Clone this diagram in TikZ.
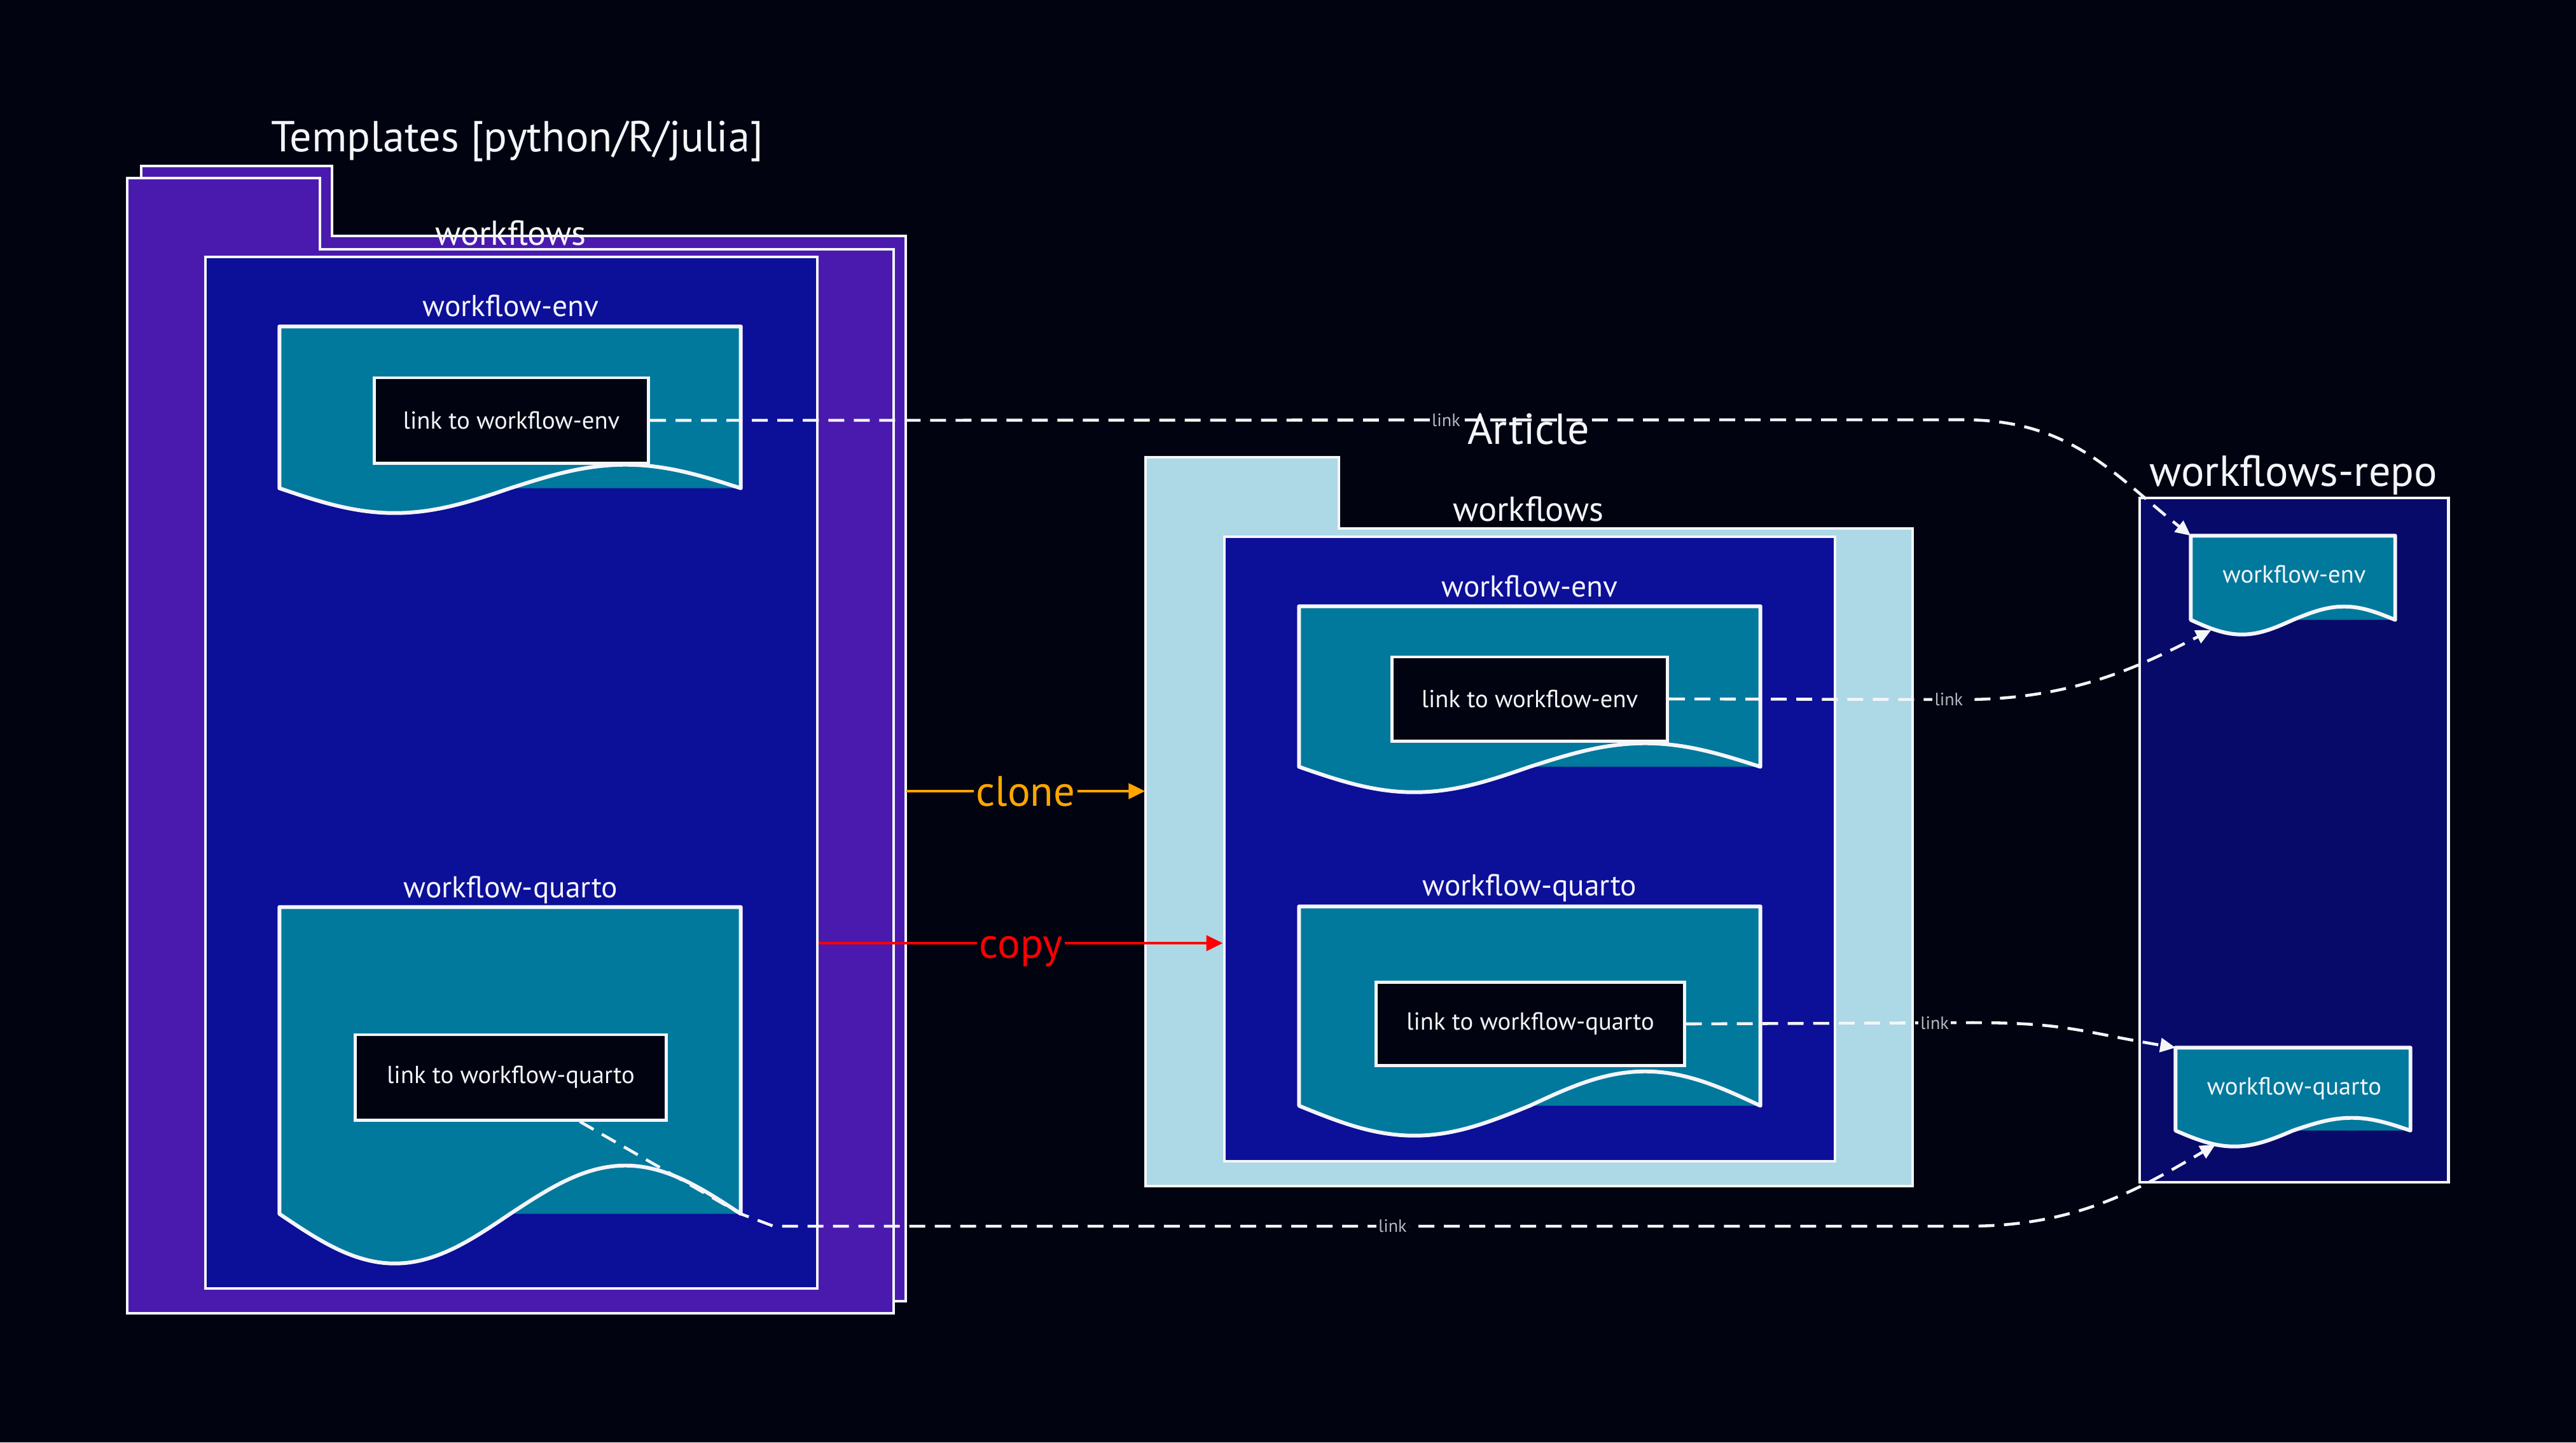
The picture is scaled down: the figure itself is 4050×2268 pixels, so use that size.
\documentclass[tikz,border=0pt]{standalone}
\usepackage{fontspec}
\setmainfont{PT Sans}
\usepackage{tikz}
\usetikzlibrary{fit}
\usetikzlibrary{calc}
\usetikzlibrary{arrows.meta}
\usepackage{color}
\definecolor{night}{RGB}{1, 4, 16}
\definecolor{ink}{RGB}{244, 245, 250}
\definecolor{ash}{RGB}{182, 184, 196}
\definecolor{grape}{RGB}{74, 26, 174}
\definecolor{cobalt}{RGB}{12, 15, 152}
\definecolor{petrol}{RGB}{1, 121, 156}
\definecolor{sky}{RGB}{173, 216, 230}
\definecolor{repoblue}{RGB}{8, 10, 105}
\definecolor{amber}{RGB}{255, 165, 0}
\definecolor{signal}{RGB}{255, 0, 0}

\tikzset{
    frame/.style      = {draw=ink, line width=1.4pt, inner sep=0pt},
    fitbox/.style     = {inner sep=0pt},
    folderline/.style = {draw=ink, line width=1.3pt},
    linkbox/.style    = {frame, fill=night, text=ink, font=\fontsize{11}{13}\selectfont},
    docfill/.style    = {fill=petrol},
    docline/.style    = {draw=ink, line width=1.7pt, line join=round},
    heading/.style    = {text=ink, inner sep=0pt, font=\fontsize{19.4}{23}\selectfont},
    subheading/.style = {text=ink, inner sep=0pt, font=\fontsize{15.5}{18}\selectfont},
    grouphead/.style  = {text=ink, inner sep=0pt, font=\fontsize{13.5}{16}\selectfont},
    docword/.style    = {text=ink, inner sep=0pt, font=\fontsize{11}{13}\selectfont},
    linkword/.style   = {text=ash, fill=night, inner sep=1pt, font=\fontsize{8}{9}\selectfont},
    flowword/.style   = {fill=night, inner sep=1pt, font=\fontsize{19}{23}\selectfont},
    linkline/.style   = {draw=ink, line width=1.3pt, dash pattern=on 2.5mm off 1.5mm,
                         -{Triangle[length=2.4mm, width=2.2mm]}},
    clonearrow/.style = {draw=amber, line width=1.4pt, -{Triangle[length=2.6mm, width=2.4mm]}},
    copyarrow/.style  = {draw=signal, line width=1.4pt, -{Triangle[length=2.6mm, width=2.4mm]}},
}

% wavy document: node, dip below base, hump above base
\newcommand{\wavedoc}[3]{%
    \fill[docfill] (#1.north west) -- (#1.north east) -- (#1.south east) -- (#1.south)
        sin ($(#1.south west)!0.25!(#1.south east)+(0,#2)$) cos (#1.south west) -- cycle;
    \draw[docline] (#1.south west)
        sin ($(#1.south west)!0.25!(#1.south east)+(0,#2)$)  cos (#1.south)
        sin ($(#1.south west)!0.75!(#1.south east)+(0,-#3)$) cos (#1.south east)
        -- (#1.north east) -- (#1.north west) -- cycle;
}

\begin{document}
\begin{tikzpicture}[x=0.01cm, y=-0.01cm]
            % Frame to ensure alignment:
            \useasboundingbox                                  (0, 0) rectangle (4050, 2268);
            \fill[night]                                       (0, 0) rectangle (4050, 2268);

            % Templates folder
            \node[heading]    (tTpl)    at ( 813,  222) {Templates [python/R/julia]};
            \filldraw[folderline, fill=grape] ( 222, 261) -- ( 522, 261) -- ( 522, 371) -- (1424, 371) -- (1424, 2046) -- ( 222, 2046) -- cycle;
            \filldraw[folderline, fill=grape] ( 200, 280) -- ( 503, 280) -- ( 503, 392) -- (1405, 392) -- (1405, 2065) -- ( 200, 2065) -- cycle;
            \node[fitbox, fit={( 522,  371) (1424, 2046)}] (tplBack)  {};
            \node[subheading] (tTplWf)  at ( 803,  366) {workflows};
            \node[frame, fill=cobalt, fit={( 323,  404) (1285, 2026)}] (tplInner) {};

            \node[grouphead]  (tTplEnv) at ( 803,  481) {workflow-env};
            \node[fitbox,  fit={( 440,  514) (1164,  767)}] (docLE) {};
            \wavedoc{docLE}{39}{37}
            \node[linkbox, minimum width=43.1mm, minimum height=13.4mm] (lnkLE) at ( 804,  661) {link to workflow-env};

            \node[grouphead]  (tTplQrt) at ( 803, 1399) {workflow-quarto};
            \node[fitbox,  fit={( 440, 1427) (1164, 1908)}] (docLQ) {};
            \wavedoc{docLQ}{78}{76}
            \node[linkbox, minimum width=48.8mm, minimum height=13.4mm] (lnkLQ) at ( 803, 1694) {link to workflow-quarto};

            % Article folder
            \filldraw[folderline, fill=sky] (1801, 719) -- (2105, 719) -- (2105, 831) -- (3007, 831) -- (3007, 1865) -- (1801, 1865) -- cycle;
            \node[fitbox, fit={(1801,  831) (3007, 1865)}] (artFolder) {};
            \node[heading]    (tArt)    at (2403,  675) {Article};
            \node[subheading] (tArtWf)  at (2403,  800) {workflows};
            \node[frame, fill=cobalt, fit={(1925,  844) (2885, 1826)}] (artInner) {};

            \node[grouphead]  (tArtEnv) at (2405,  922) {workflow-env};
            \node[fitbox,  fit={(2043,  954) (2767, 1205)}] (docAE) {};
            \wavedoc{docAE}{40}{37}
            \node[linkbox, minimum width=43.3mm, minimum height=13.2mm] (lnkAE) at (2405, 1099) {link to workflow-env};

            \node[grouphead]  (tArtQrt) at (2405, 1396) {workflow-quarto};
            \node[fitbox,  fit={(2043, 1426) (2767, 1738)}] (docAQ) {};
            \wavedoc{docAQ}{47}{54}
            \node[linkbox, minimum width=48.4mm, minimum height=13.1mm] (lnkAQ) at (2406, 1610) {link to workflow-quarto};

            % workflows-repo
            \node[heading]    (tRepo)   at (3606,  747) {workflows-repo};
            \node[frame, fill=repoblue, fit={(3364,  783) (3849, 1859)}] (repo) {};
            \node[fitbox,  fit={(3445,  843) (3765,  974)}] (docRE) {};
            \wavedoc{docRE}{23}{21}
            \node[docword]    (tRE)     at (3607,  903) {workflow-env};
            \node[fitbox,  fit={(3421, 1648) (3789, 1777)}] (docRQ) {};
            \wavedoc{docRQ}{25}{20}
            \node[docword]    (tRQ)     at (3607, 1712) {workflow-quarto};

            % clone / copy
            \coordinate (cloneY) at (0, 1244);
            \coordinate (copyY)  at (0, 1483);
            \draw[clonearrow] (tplBack.east  |- cloneY) -- node[flowword, text=amber,  pos=0.50] (tClone) {clone} (artFolder.west |- cloneY);
            \draw[copyarrow]  (tplInner.east |- copyY)  -- node[flowword, text=signal, pos=0.50, yshift=-1.3mm] (tCopy) {copy} (artInner.west |- copyY);

            % links
            \coordinate (bendA)  at (3087,  660);
            \coordinate (bendB)  at (3087, 1100);
            \coordinate (bendC)  at (3100, 1608);
            \coordinate (bendD0) at (1216, 1928);
            \coordinate (bendD)  at (3095, 1928);
            \draw[linkline] (lnkLE.east) -- node[linkword, pos=0.606] (lblA) {link} (bendA)
                 .. controls +(170, 0) and +(-120, -95) .. (docRE.north west);
            \draw[linkline] (lnkAE.east) -- node[linkword, pos=0.95]  (lblB) {link} (bendB)
                 .. controls +(180, 0) and +(-100, 50) .. ($(docRE.south west)!0.1!(docRE.south east)+(0, 16)$);
            \draw[linkline] (lnkAQ.east) -- node[linkword, pos=0.87]  (lblC) {link} (bendC)
                 .. controls +(150, 0) and +(-150, -25) .. (docRQ.north west);
            \draw[linkline] ($(lnkLQ.south west)!0.72!(lnkLQ.south east)$) -- (docLQ.south east) -- (bendD0)
                 -- node[linkword, pos=0.518] (lblD) {link} (bendD)
                 .. controls +(170, 0) and +(-120, 70) .. ($(docRQ.south west)!0.17!(docRQ.south east)+(0, 22)$);
\end{tikzpicture}
\end{document}
